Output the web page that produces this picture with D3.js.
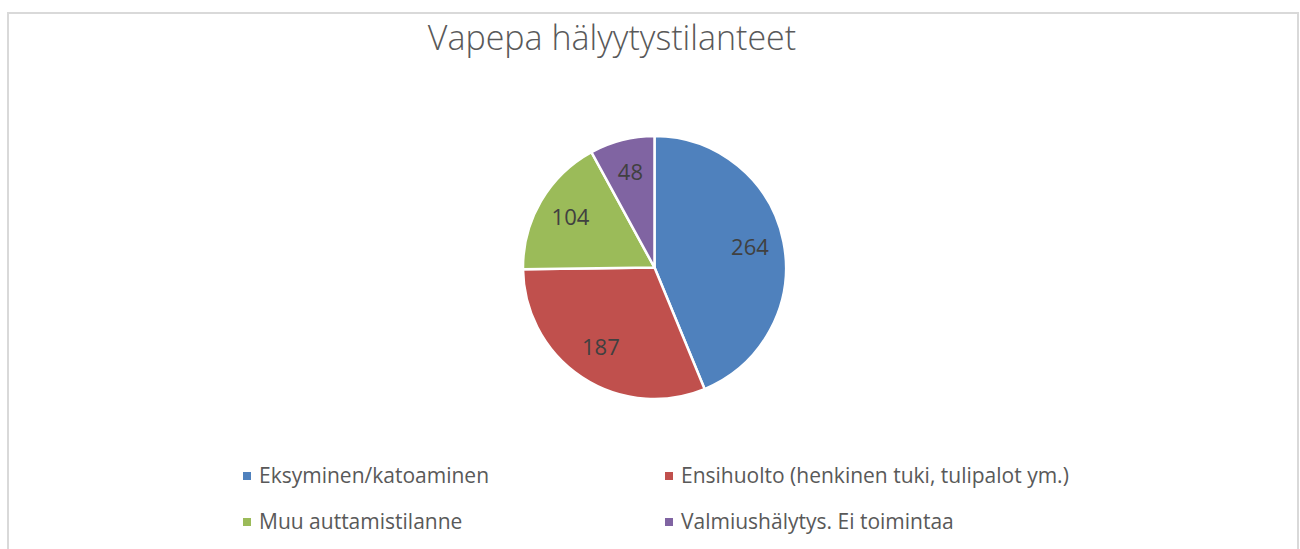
<!DOCTYPE html>
<html>
<head>
<meta charset="utf-8">
<script src="https://cdn.jsdelivr.net/npm/d3@7"></script>
<style>
  body { margin: 0; background: #fff; }
  svg { display: block; }
</style>
</head>
<body>
<div id="chart"></div>
<script>
// Chart data
var categories = [
  "Eksyminen/katoaminen",
  "Ensihuolto (henkinen tuki, tulipalot ym.)",
  "Muu auttamistilanne",
  "Valmiushälytys. Ei toimintaa"
];
var values = [264, 187, 104, 48];
var colors = ["#4F81BD", "#C0504D", "#9BBB59", "#8064A2"];
var title = "Vapepa hälyytystilanteet";

function init() {
  var w = 1300;
  var h = 549;
  var cx = 654.5;
  var cy = 267.5;
  var radius = 131.5;
  var fontFamily = "'Open Sans', 'Noto Sans', sans-serif";

  var svg = d3
    .select("#chart")
    .append("svg")
    .attr("width", w)
    .attr("height", h);

  // Chart border
  svg
    .append("rect")
    .attr("x", 8)
    .attr("y", 13)
    .attr("width", 1290)
    .attr("height", 560)
    .attr("fill", "none")
    .attr("stroke", "#d9d9d9")
    .attr("stroke-width", 2);

  // Title
  svg
    .append("text")
    .attr("x", 612)
    .attr("y", 50)
    .attr("text-anchor", "middle")
    .attr("font-family", fontFamily)
    .attr("font-weight", 300)
    .attr("font-size", "34px")
    .attr("fill", "#595959")
    .text(title);

  var color = d3.scaleOrdinal().domain(categories).range(colors);

  var pie = d3
    .pie()
    .sort(null)
    .value((d) => d.value);

  var data = categories.map((c, i) => ({ name: c, value: values[i] }));
  var arcs = pie(data);

  var arc = d3.arc().innerRadius(0).outerRadius(radius);
  var labelArc = d3
    .arc()
    .innerRadius(radius * 0.74)
    .outerRadius(radius * 0.74);

  var g = svg
    .append("g")
    .attr("transform", "translate(" + cx + "," + cy + ")");

  g.selectAll("path")
    .data(arcs)
    .enter()
    .append("path")
    .attr("d", arc)
    .attr("fill", (d) => color(d.data.name))
    .attr("stroke", "#fff")
    .attr("stroke-width", 2.5)
    .attr("stroke-linejoin", "round");

  g.selectAll("text.label")
    .data(arcs)
    .enter()
    .append("text")
    .attr("class", "label")
    .attr("transform", (d) => "translate(" + labelArc.centroid(d) + ")")
    .attr("text-anchor", "middle")
    .attr("dy", "0.3em")
    .attr("font-family", fontFamily)
    .attr("font-size", "22px")
    .attr("fill", "#404040")
    .text((d) => d.data.value);

  // Legend
  var colX = [243, 665];
  var rowY = [476, 522];

  var legend = svg
    .selectAll(".legend")
    .data(data)
    .enter()
    .append("g")
    .attr("class", "legend")
    .attr(
      "transform",
      (d, i) => "translate(" + colX[i % 2] + "," + rowY[Math.floor(i / 2)] + ")"
    );

  legend
    .append("rect")
    .attr("x", 0)
    .attr("y", -4)
    .attr("width", 8)
    .attr("height", 8)
    .attr("fill", (d) => color(d.name));

  legend
    .append("text")
    .attr("x", 16)
    .attr("y", 0)
    .attr("dy", "0.33em")
    .attr("font-family", fontFamily)
    .attr("font-size", "21px")
    .attr("fill", "#595959")
    .text((d) => d.name);
}

window.onload = init;
</script>
</body>
</html>
